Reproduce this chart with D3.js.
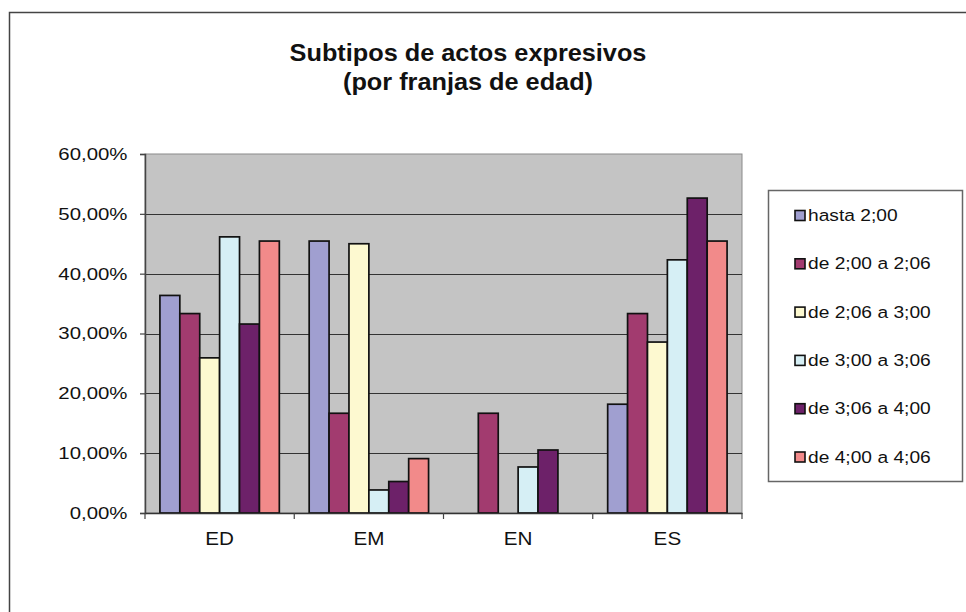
<!DOCTYPE html>
<html>
<head>
<meta charset="utf-8">
<script src="https://cdn.jsdelivr.net/npm/d3@7"></script>
<style>
  html, body { margin: 0; padding: 0; background: #fff; }
  svg { display: block; }
  text { font-family: "Liberation Sans", Arial, sans-serif; fill: #111; }
</style>
</head>
<body>
<svg id="chart" width="966" height="612"></svg>
<script>
const categories = ["ED", "EM", "EN", "ES"];
const seriesNames = ["hasta 2;00", "de 2;00 a 2;06", "de 2;06 a 3;00", "de 3;00 a 3;06", "de 3;06 a 4;00", "de 4;00 a 4;06"];
const hasta200 = [36.36, 45.45, 0, 18.18];
const de200a206 = [33.33, 16.67, 16.67, 33.33];
const de206a300 = [25.93, 45.00, 0, 28.57];
const de300a306 = [46.15, 3.85, 7.69, 42.31];
const de306a400 = [31.58, 5.26, 10.53, 52.63];
const de400a406 = [45.45, 9.09, 0, 45.45];
const yTicks = [0, 10, 20, 30, 40, 50, 60];
const titleLines = ["Subtipos de actos expresivos", "(por franjas de edad)"];

const seriesValues = [hasta200, de200a206, de206a300, de300a306, de306a400, de400a406];
const colors = ["#a09fd0", "#a23b6f", "#fdf9d0", "#d6eff5", "#6d2169", "#f28a8a"];

const svg = d3.select("#chart");
const plot = { left: 145, right: 742, top: 154, bottom: 513 };

// outer chart border
svg.append("rect").attr("x", 9.5).attr("y", 12.5).attr("width", 980).attr("height", 620)
  .attr("fill", "#fff").attr("stroke", "#444").attr("stroke-width", 1.5);

// helper for horizontally stretched text
function stretchedText(parent, x, y, str, opts) {
  const g = parent.append("g").attr("transform", `translate(${x},${y}) scale(${opts.sx},1)`);
  const t = g.append("text").attr("x", 0).attr("y", 0)
    .attr("text-anchor", opts.anchor || "start")
    .attr("dominant-baseline", opts.baseline || "auto")
    .style("font-size", opts.size + "px")
    .style("font-weight", opts.weight || "normal")
    .text(str);
  return t;
}

// title
titleLines.forEach((line, i) => {
  stretchedText(svg, 468, 61 + i * 29, line, { sx: 1.1, size: 23, weight: "bold", anchor: "middle" });
});

const y = d3.scaleLinear().domain([0, 60]).range([plot.bottom, plot.top]);
const x0 = d3.scaleBand().domain(categories).range([plot.left, plot.right]).paddingInner(0).paddingOuter(0);
const x1 = d3.scaleBand().domain(seriesNames).range([0, x0.bandwidth()]).paddingInner(0).paddingOuter(0.75);

// plot background
svg.append("rect").attr("x", plot.left).attr("y", plot.top)
  .attr("width", plot.right - plot.left).attr("height", plot.bottom - plot.top)
  .attr("fill", "#c4c4c4").attr("stroke", "#8a8a8a").attr("stroke-width", 1);

// gridlines
svg.append("g").selectAll("line").data(yTicks.filter(d => d > 0 && d < 60)).join("line")
  .attr("x1", plot.left).attr("x2", plot.right)
  .attr("y1", d => Math.round(y(d)) + 0.5).attr("y2", d => Math.round(y(d)) + 0.5)
  .attr("stroke", "#333").attr("stroke-width", 1.2);

// bars
const barData = [];
categories.forEach((c, ci) => {
  seriesNames.forEach((s, si) => {
    barData.push({ cat: c, series: s, value: seriesValues[si][ci], color: colors[si] });
  });
});
svg.append("g").selectAll("rect").data(barData.filter(d => d.value > 0)).join("rect")
  .attr("x", d => x0(d.cat) + x1(d.series))
  .attr("y", d => y(d.value))
  .attr("width", x1.bandwidth())
  .attr("height", d => y(0) - y(d.value))
  .attr("fill", d => d.color)
  .attr("stroke", "#111").attr("stroke-width", 1.7);

// y axis
const yAxis = svg.append("g").attr("transform", `translate(${plot.left},0)`)
  .call(d3.axisLeft(y).tickValues(yTicks).tickSize(5).tickFormat(""));
yAxis.select(".domain").attr("stroke", "#444").attr("stroke-width", 1.5);
yAxis.selectAll(".tick line").attr("stroke", "#444").attr("stroke-width", 1.2);
yTicks.forEach(v => {
  stretchedText(svg, 127.5, y(v), d3.format(".2f")(v).replace(".", ",") + "%",
    { sx: 1.2, size: 17, anchor: "end", baseline: "central" });
});

// x axis
const xAxis = svg.append("g").attr("transform", `translate(0,${plot.bottom})`)
  .call(d3.axisBottom(x0).tickSize(0).tickFormat(""));
xAxis.select(".domain").attr("stroke", "#333").attr("stroke-width", 1.5);
xAxis.selectAll(".tick line").remove();
const boundaries = categories.map(c => x0(c)).concat([plot.right]);
svg.append("g").selectAll("line").data(boundaries).join("line")
  .attr("x1", d => d).attr("x2", d => d)
  .attr("y1", plot.bottom).attr("y2", plot.bottom + 6)
  .attr("stroke", "#444").attr("stroke-width", 1.2);
categories.forEach(c => {
  stretchedText(svg, x0(c) + x0.bandwidth() / 2, 545, c, { sx: 1.18, size: 17.5, anchor: "middle" });
});

// legend
const legend = { x: 768, y: 190, w: 194, h: 291 };
svg.append("rect").attr("x", legend.x + 0.5).attr("y", legend.y + 0.5)
  .attr("width", legend.w).attr("height", legend.h)
  .attr("fill", "#fff").attr("stroke", "#666").attr("stroke-width", 1.5);
const ly = d3.scalePoint().domain(seriesNames).range([215.5, 457]);
seriesNames.forEach((s, i) => {
  svg.append("rect").attr("x", 795).attr("y", ly(s) - 5).attr("width", 10).attr("height", 10)
    .attr("fill", colors[i]).attr("stroke", "#111").attr("stroke-width", 1.6);
  stretchedText(svg, 808, ly(s), s, { sx: 1.13, size: 17, anchor: "start", baseline: "central" });
});
</script>
</body>
</html>
